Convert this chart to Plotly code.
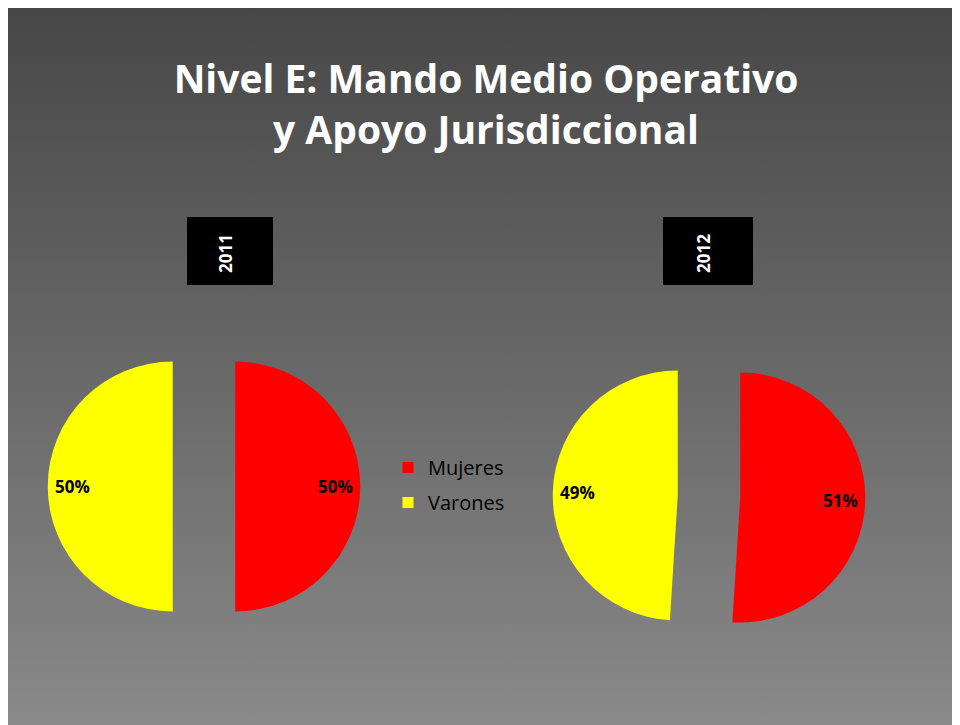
import math
import plotly.graph_objects as go

W, H = 960, 725

# ---- data ----
years = ["2011", "2012"]
labels = ["Mujeres", "Varones"]
values_2011 = [50, 50]
values_2012 = [51, 49]
colors = ["#FF0000", "#FFFF00"]
title_lines = ["Nivel E: Mando Medio Operativo", "y Apoyo Jurisdiccional"]

# ---- layout constants (pixels, from figure top-left) ----
PULL = 0.25
R = 125
centers = [(196, 478.5), (701, 488.5)]
boxes = [(179, 265), (655, 745)]
BOX_Y = (209, 277)
FONT = "Open Sans"

fig = go.Figure()

# gradient background panel
fig.add_trace(go.Scatter(
    x=[0, W, W, 0, 0], y=[0, 0, H, H, 0], mode="lines", fill="toself",
    line=dict(width=0, color="rgba(0,0,0,0)"),
    fillgradient=dict(type="vertical",
                      colorscale=[[0, "#8a8a8a"], [1, "#474747"]]),
    hoverinfo="skip", showlegend=False))

half = R * (1 + PULL)
annotations = []
for vals, (cx, cy) in zip([values_2011, values_2012], centers):
    fig.add_trace(go.Pie(
        labels=labels, values=vals, sort=False, direction="clockwise",
        rotation=0, pull=[PULL] * len(vals), textinfo="none",
        marker=dict(colors=colors, line=dict(width=0)),
        hoverinfo="label+percent", showlegend=False,
        domain=dict(x=[(cx - half) / W, (cx + half) / W],
                    y=[1 - (cy + half) / H, 1 - (cy - half) / H])))
    total = sum(vals)
    cum = 0.0
    for v in vals:
        frac = v / total
        mid = (cum + frac / 2) * 2 * math.pi
        cum += frac
        ox = cx + R * PULL * math.sin(mid)
        oy = cy - R * PULL * math.cos(mid)
        lx = ox + 0.8 * R * math.sin(mid)
        ly = oy - 0.8 * R * math.cos(mid)
        annotations.append(dict(
            x=lx, y=ly, xref="x", yref="y", showarrow=False,
            text=f"{round(100 * frac)}%",
            font=dict(family=FONT, size=17, color="black", weight="bold")))

# legend entries
for lab, col in zip(labels, colors):
    fig.add_trace(go.Scatter(
        x=[None], y=[None], mode="markers", name=lab, legendgroup=lab,
        marker=dict(symbol="square", size=11, color=col)))

shapes = []
for (x0, x1), yr in zip(boxes, years):
    shapes.append(dict(type="rect", xref="x", yref="y", x0=x0, x1=x1,
                       y0=BOX_Y[0], y1=BOX_Y[1], fillcolor="black",
                       line=dict(width=0)))
    annotations.append(dict(
        x=(x0 + x1) / 2 - 5, y=(BOX_Y[0] + BOX_Y[1]) / 2 + 3, xref="x", yref="y",
        showarrow=False, text=yr, textangle=-90,
        font=dict(family=FONT, size=17, color="white", weight="bold")))

fig.update_layout(
    width=W, height=H, autosize=False,
    margin=dict(l=0, r=0, t=0, b=0),
    paper_bgcolor="white", plot_bgcolor="rgba(0,0,0,0)",
    xaxis=dict(range=[0, W], visible=False, fixedrange=True),
    yaxis=dict(range=[H, 0], visible=False, fixedrange=True),
    title=dict(text="<br>".join(title_lines), x=478 / W, xanchor="center",
               y=1 - 85 / H, yanchor="top",
               font=dict(family=FONT, size=39, color="white", weight="bold")),
    legend=dict(x=380 / W, xanchor="left", y=1 - 440 / H, yanchor="top",
                bgcolor="rgba(0,0,0,0)", tracegroupgap=6,
                font=dict(family=FONT, size=20, color="black")),
    shapes=shapes, annotations=annotations,
    showlegend=True,
)

fig.write_html("out.html")
